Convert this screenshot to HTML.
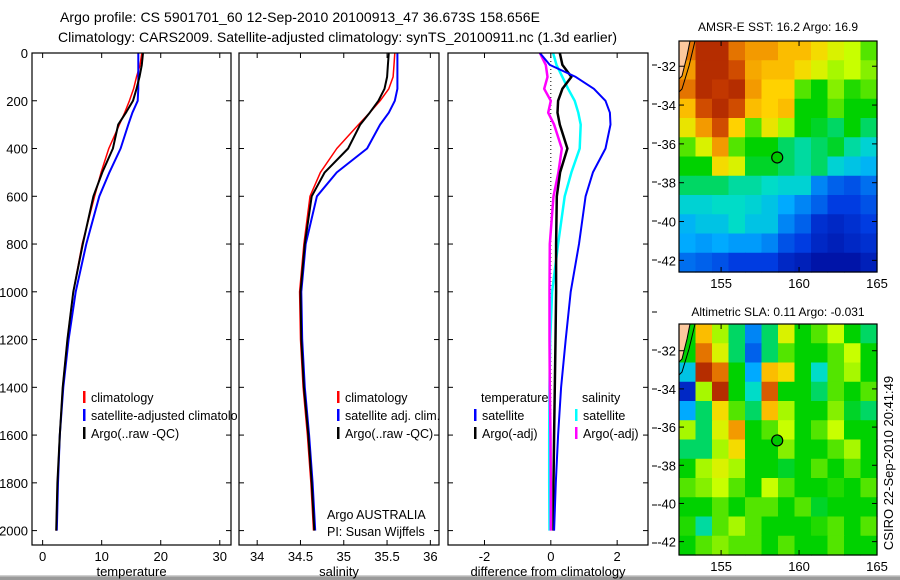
<!DOCTYPE html>
<html><head><meta charset="utf-8"><style>
html,body{margin:0;padding:0;background:#fff;}
svg{display:block;font-family:"Liberation Sans",sans-serif;}
</style></head><body>
<svg id="fig" width="900" height="580" viewBox="0 0 900 580" xmlns="http://www.w3.org/2000/svg">
<rect x="0" y="0" width="900" height="580" fill="#fff"/>
<defs><clipPath id="leg1clip"><rect x="0" y="380" width="238" height="80"/></clipPath></defs>
<text x="60" y="22" font-size="14" textLength="480">Argo profile: CS 5901701_60 12-Sep-2010 20100913_47 36.673S 158.656E</text>
<text x="58" y="42" font-size="14" textLength="559">Climatology: CARS2009. Satellite-adjusted climatology: synTS_20100911.nc (1.3d earlier)</text>
<rect x="0" y="575" width="900" height="5" fill="#9a9a9a"/>
<rect x="0" y="575" width="900" height="1.5" fill="#d0d0d0"/>
<g id="plots"></g>
</svg>
<script>
// ---- profile data ----
const depths = [0,50,100,150,200,250,300,400,500,600,800,1000,1200,1400,1600,1800,2000];
const tempClim = [16.8,16.5,15.9,15.4,14.7,13.9,13.0,11.2,9.9,8.8,6.7,5.2,4.2,3.4,2.9,2.5,2.3];
const tempSat  = [16.2,16.2,16.2,16.2,16.1,15.2,14.5,13.2,11.3,9.6,7.4,5.6,4.4,3.5,2.9,2.6,2.4];
const tempArgo = [17.0,16.8,16.4,15.9,15.3,14.1,12.8,11.9,10.1,8.6,6.8,5.2,4.2,3.4,2.9,2.5,2.3];
const salClim  = [35.59,35.58,35.57,35.52,35.42,35.30,35.17,34.92,34.73,34.61,34.54,34.49,34.50,34.53,34.58,34.62,34.65];
const salSat   = [35.62,35.62,35.62,35.62,35.59,35.52,35.42,35.27,34.92,34.69,34.56,34.51,34.52,34.55,34.60,34.64,34.67];
const salArgo  = [35.52,35.51,35.50,35.47,35.40,35.30,35.19,35.05,34.78,34.63,34.55,34.50,34.51,34.54,34.59,34.63,34.66];
const dTempSat  = [-0.33,-0.03,0.75,1.3,1.65,1.78,1.8,1.65,1.27,1.05,0.85,0.6,0.45,0.31,0.22,0.15,0.1];
const dTempArgo = [0.27,0.35,0.62,0.35,0.22,0.2,0.27,0.5,0.28,0.18,0.16,0.16,0.14,0.12,0.1,0.08,0.08];
const dSalSat   = [0.07,0.17,0.35,0.52,0.72,0.83,0.9,0.87,0.62,0.42,0.22,0.04,-0.02,-0.04,-0.05,-0.05,-0.04];
const dSalArgo  = [-0.33,-0.15,-0.1,-0.2,0.0,-0.08,0.1,0.33,0.23,0.08,-0.03,-0.04,-0.04,-0.03,-0.01,0.0,0.0];
const depthTicks = [0,200,400,600,800,1000,1200,1400,1600,1800,2000];
const tempTicks = [0,10,20,30];
const salTicks = [34,34.5,35,35.5,36];
const salTickLabels = ['34','34.5','35','35.5','36'];
const diffTicks = [-2,0,2];
// ---- map data (0..1 colour index, rows north->south) ----
const sstGrid = [
[0.85,0.95,0.95,0.85,0.8,0.8,0.75,0.75,0.7,0.65,0.62,0.55],
[0.8,0.95,0.95,0.9,0.78,0.75,0.75,0.7,0.65,0.6,0.62,0.58],
[0.85,0.95,0.93,0.95,0.8,0.72,0.72,0.55,0.5,0.58,0.52,0.55],
[0.75,0.9,0.95,0.9,0.75,0.72,0.75,0.5,0.5,0.55,0.5,0.5],
[0.68,0.8,0.9,0.72,0.55,0.68,0.6,0.5,0.48,0.45,0.5,0.45],
[0.55,0.65,0.8,0.55,0.5,0.5,0.45,0.42,0.45,0.48,0.42,0.38],
[0.5,0.5,0.7,0.65,0.48,0.48,0.45,0.42,0.45,0.38,0.35,0.32],
[0.45,0.45,0.45,0.42,0.42,0.4,0.38,0.38,0.25,0.2,0.18,0.22],
[0.38,0.38,0.4,0.4,0.38,0.35,0.3,0.25,0.2,0.15,0.15,0.18],
[0.32,0.35,0.35,0.4,0.35,0.35,0.25,0.2,0.12,0.1,0.12,0.15],
[0.3,0.28,0.3,0.28,0.28,0.25,0.18,0.15,0.1,0.08,0.1,0.12],
[0.22,0.2,0.18,0.15,0.15,0.15,0.1,0.08,0.05,0.05,0.05,0.08]];
const slaGrid = [
[0.5,0.75,0.6,0.45,0.25,0.45,0.65,0.5,0.55,0.62,0.5,0.45],
[0.5,0.85,0.65,0.45,0.2,0.45,0.55,0.5,0.5,0.55,0.62,0.5],
[0.35,0.95,0.85,0.5,0.3,0.75,0.7,0.5,0.4,0.55,0.6,0.5],
[0.1,0.6,0.95,0.5,0.4,0.88,0.5,0.5,0.45,0.55,0.5,0.55],
[0.3,0.45,0.7,0.55,0.45,0.75,0.6,0.5,0.5,0.58,0.48,0.45],
[0.6,0.45,0.65,0.8,0.5,0.55,0.62,0.5,0.55,0.62,0.5,0.5],
[0.45,0.45,0.6,0.7,0.5,0.5,0.58,0.5,0.5,0.55,0.6,0.5],
[0.5,0.6,0.65,0.6,0.5,0.5,0.48,0.5,0.55,0.5,0.55,0.5],
[0.55,0.58,0.62,0.55,0.5,0.62,0.55,0.5,0.5,0.52,0.5,0.55],
[0.5,0.5,0.55,0.5,0.55,0.55,0.5,0.55,0.48,0.5,0.5,0.5],
[0.52,0.42,0.55,0.6,0.55,0.5,0.5,0.5,0.52,0.55,0.5,0.55],
[0.5,0.55,0.58,0.55,0.55,0.5,0.55,0.5,0.5,0.55,0.5,0.5]];
const latTicks = [-32,-34,-36,-38,-40,-42];
const lonTicks = [155,160,165];
const argoLon = 158.6, argoLat = -36.7;

const NS='http://www.w3.org/2000/svg';
const root=document.getElementById('plots');
function el(tag,attrs,parent){const e=document.createElementNS(NS,tag);for(const k in attrs)e.setAttribute(k,attrs[k]);(parent||root).appendChild(e);return e;}
function txt(x,y,s,size,anchor,parent){const t=el('text',{x:x,y:y,'font-size':size,'text-anchor':anchor||'start',fill:'#000'},parent);t.textContent=s;return t;}

const yTop=53, yBot=545, yScale=0.2388;
const yD=d=>yTop+d*yScale;

function panel(name,x0,x1,vmin,vmax){
  const g=el('g',{});
  
  
  const sx=v=>x0+(v-vmin)/(vmax-vmin)*(x1-x0);
  const cid='clip-'+name;
  const cp=el('clipPath',{id:cid},g);el('rect',{x:x0,y:yTop,width:x1-x0,height:yBot-yTop},cp);
  const lines=el('g',{'clip-path':'url(#'+cid+')'},g);
  return {g,sx,lines,x0,x1};
}
function frame(p){el('rect',{x:p.x0,y:yTop,width:p.x1-p.x0,height:yBot-yTop,fill:'none',stroke:'#000','stroke-width':1.2},p.g);}
function depthTicksDraw(p,labels){
  depthTicks.forEach(d=>{const y=yD(d);
    el('line',{x1:p.x0,x2:p.x0+5,y1:y,y2:y,stroke:'#000'},p.g);
    el('line',{x1:p.x1-5,x2:p.x1,y1:y,y2:y,stroke:'#000'},p.g);
    if(labels){const t=txt(p.x0-4,y+5,String(d),13,'end',p.g);}
  });
}
function xTicks(p,vals,labels,title){
  vals.forEach((v,i)=>{const x=p.sx(v);
    el('line',{x1:x,x2:x,y1:yBot,y2:yBot-5,stroke:'#000'},p.g);
    el('line',{x1:x,x2:x,y1:yTop,y2:yTop+5,stroke:'#000'},p.g);
    const t=txt(x,561,labels[i],13,'middle',p.g);
    
    
  });
  const t=txt((p.x0+p.x1)/2,576,title,13,'middle',p.g);
  
  
}
function profile(p,vals,color,w,name){
  const pts=vals.map((v,i)=>p.sx(v).toFixed(1)+','+yD(depths[i]).toFixed(1)).join(' ');
  const l=el('polyline',{points:pts,fill:'none',stroke:color,'stroke-width':w,'stroke-linejoin':'round'},p.lines);
  
  
}
function legend(parent,x,y,color,label){
  const g=el('g',{},parent);
  
  
  if(color) el('rect',{x:x,y:y-11,width:2.5,height:12,fill:color},g);
  txt(x+8,y,label,12.5,'start',g);
}

// Panel 1 temperature
const p1=panel('temperature-panel',32,231,-1.8,31.9);
profile(p1,tempClim,'#f00',1.5,'temp-climatology-line');
profile(p1,tempSat,'#00f',2,'temp-satellite-line');
profile(p1,tempArgo,'#000',2,'temp-argo-line');
frame(p1);depthTicksDraw(p1,true);
xTicks(p1,tempTicks,tempTicks.map(String),'temperature');
const leg1=el('g',{'clip-path':'url(#leg1clip)'},p1.g);


legend(leg1,83,402,'#f00','climatology');
legend(leg1,83,420,'#00f','satellite-adjusted climatology');
legend(leg1,83,438,'#000','Argo(..raw -QC)');

// Panel 2 salinity
const p2=panel('salinity-panel',239,439,33.79,36.1);
profile(p2,salClim,'#f00',1.5,'sal-climatology-line');
profile(p2,salSat,'#00f',2,'sal-satellite-line');
profile(p2,salArgo,'#000',2,'sal-argo-line');
frame(p2);depthTicksDraw(p2,false);
xTicks(p2,salTicks,salTickLabels,'salinity');
legend(p2.g,337,402,'#f00','climatology');
legend(p2.g,337,420,'#00f','satellite adj. clim.');
legend(p2.g,337,438,'#000','Argo(..raw -QC)');
txt(327,519,'Argo AUSTRALIA',12.5,'start',p2.g);
txt(327,536,'PI: Susan Wijffels',12.5,'start',p2.g);

// Panel 3 difference
const p3=panel('difference-panel',448,648,-3.1,2.93);
el('line',{x1:p3.sx(0),x2:p3.sx(0),y1:yD(0),y2:yD(2000),stroke:'#000','stroke-dasharray':'1,3','stroke-width':1},p3.lines);
profile(p3,dSalSat,'#0ff',2.5,'sal-diff-satellite-line');
profile(p3,dSalArgo,'#f0f',2.5,'sal-diff-argo-line');
profile(p3,dTempArgo,'#000',2.5,'temp-diff-argo-line');
profile(p3,dTempSat,'#00f',2,'temp-diff-satellite-line');
frame(p3);depthTicksDraw(p3,false);
xTicks(p3,diffTicks,diffTicks.map(String),'difference from climatology');
txt(481,402,'temperature',12.5,'start',p3.g);
legend(p3.g,474,420,'#00f','satellite');
legend(p3.g,474,438,'#000','Argo(-adj)');
txt(582,402,'salinity',12.5,'start',p3.g);
legend(p3.g,575,420,'#0ff','satellite');
legend(p3.g,575,438,'#f0f','Argo(-adj)');
// stray outer ticks
[65,104,143,182,221,260,312,350,389,428,466,505,543].forEach(y=>el('line',{x1:652,x2:657,y1:y,y2:y,stroke:'#000'}));

// ---- maps ----
const stops=[[0,[0,0,140]],[0.15,[0,60,225]],[0.3,[0,170,255]],[0.4,[0,220,200]],[0.5,[0,210,0]],[0.62,[200,255,0]],[0.72,[255,210,0]],[0.82,[240,140,0]],[0.92,[200,60,0]],[1,[150,20,0]]];
function cmap(v){v=Math.max(0,Math.min(1,v));for(let i=1;i<stops.length;i++){if(v<=stops[i][0]){const a=stops[i-1],b=stops[i];const t=(v-a[0])/(b[0]-a[0]);const c=a[1].map((x,k)=>Math.round(x+(b[1][k]-x)*t));return 'rgb('+c.join(',')+')';}}return 'rgb(150,20,0)';}
function map(name,grid,x0,x1,y0,y1,latTop,latBot,title,titleY){
  const g=el('g',{});
  
  
  const lonL=152.3,lonR=165;
  const sx=lo=>x0+(lo-lonL)/(lonR-lonL)*(x1-x0);
  const sy=la=>y0+(latTop-la)/(latTop-latBot)*(y1-y0);
  const rows=grid.length,cols=grid[0].length;
  const cw=(x1-x0)/cols,ch=(y1-y0)/rows;
  grid.forEach((row,r)=>row.forEach((v,c)=>{
    const cell=el('rect',{x:(x0+c*cw).toFixed(2),y:(y0+r*ch).toFixed(2),width:(cw+0.6).toFixed(2),height:(ch+0.6).toFixed(2),fill:cmap(v)},g);
    
    
  }));
  el('polygon',{points:`${x0},${y0} ${x0+11},${y0} ${x0+8},${y0+15} ${x0+3},${y0+35} ${x0},${y0+38}`,fill:'#fcc89e'},g);
  el('polyline',{points:`${x0+11},${y0} ${x0+8},${y0+15} ${x0+3},${y0+35} ${x0},${y0+38}`,fill:'none',stroke:'#000','stroke-width':1},g);
  el('polyline',{points:`${x0+16},${y0} ${x0+10},${y0+25} ${x0+3},${y0+48} ${x0},${y0+51}`,fill:'none',stroke:'#000','stroke-width':1},g);
  const m=el('circle',{cx:sx(argoLon),cy:sy(argoLat),r:5.5,fill:'#00c800',stroke:'#000','stroke-width':1.2},g);
  
  
  el('rect',{x:x0,y:y0,width:x1-x0,height:y1-y0,fill:'none',stroke:'#000','stroke-width':1.2},g);
  latTicks.forEach(la=>{const y=sy(la);
    el('line',{x1:x0,x2:x0+5,y1:y,y2:y,stroke:'#000'},g);
    el('line',{x1:x1-5,x2:x1,y1:y,y2:y,stroke:'#000'},g);
    const t=txt(x0-3,y+5,String(la),13,'end',g);
    
    
  });
  lonTicks.forEach(lo=>{const x=sx(lo);
    el('line',{x1:x,x2:x,y1:y1,y2:y1-5,stroke:'#000'},g);
    el('line',{x1:x,x2:x,y1:y0,y2:y0+5,stroke:'#000'},g);
    const t=txt(x,y1+16,String(lo),13,'middle',g);
    
    
  });
  const tt=txt((x0+x1)/2,titleY,title,12,'middle',g);
  
  
}
map('sst-map',sstGrid,679,877,41,272,-30.7,-42.6,'AMSR-E SST: 16.2 Argo: 16.9',31);
map('sla-map',slaGrid,679,877,324,555,-30.6,-42.7,'Altimetric SLA: 0.11 Argo: -0.031',316);
const side=txt(0,0,'CSIRO 22-Sep-2010 20:41:49',13,'middle');
side.setAttribute('transform','translate(893,463) rotate(-90)');


</script>
</body></html>
